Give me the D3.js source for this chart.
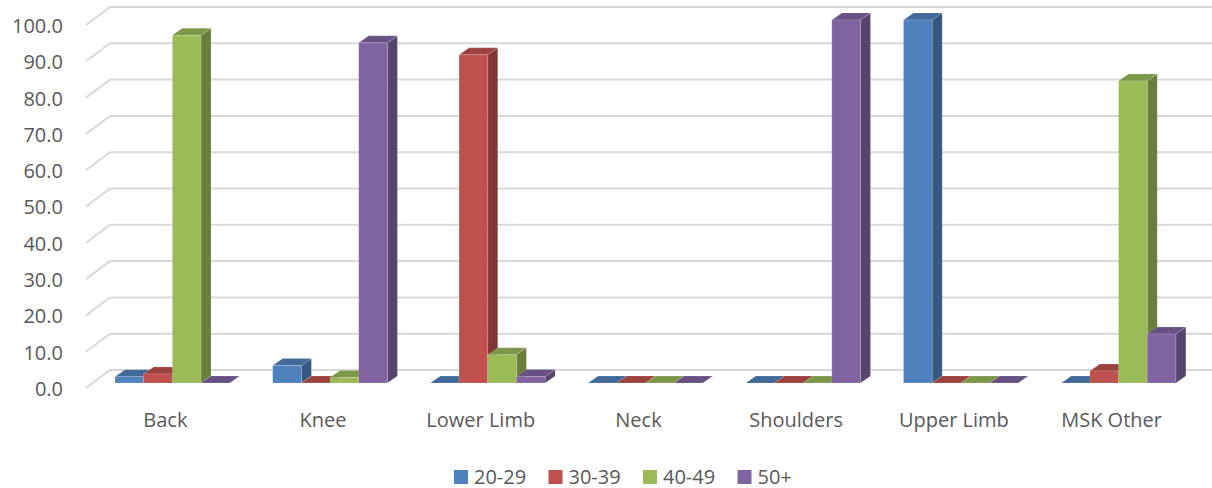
<!DOCTYPE html>
<html>
<head>
<meta charset="utf-8">
<script src="https://cdn.jsdelivr.net/npm/d3@7/dist/d3.min.js"></script>
<style>
  html, body { margin: 0; padding: 0; background: #ffffff; }
  svg { display: block; }
  text { font-family: "Open Sans", "Liberation Sans", sans-serif; fill: #595959; }
</style>
</head>
<body>
<svg id="chart" width="1212" height="488"></svg>
<script>
// Share of cases by age band within each body region (%)
const categories = ["Back", "Knee", "Lower Limb", "Neck", "Shoulders", "Upper Limb", "MSK Other"];
const seriesNames = ["20-29", "30-39", "40-49", "50+"];
const age20to29 = [1.7, 4.8, 0.0, 0.0, 0.0, 100.0, 0.0];
const age30to39 = [2.5, 0.0, 90.4, 0.0, 0.0, 0.0, 3.3];
const age40to49 = [95.8, 1.5, 7.8, 0.0, 0.0, 0.0, 83.2];
const age50plus = [0.0, 93.7, 1.8, 0.0, 100.0, 0.0, 13.5];
const yTicks = [0, 10, 20, 30, 40, 50, 60, 70, 80, 90, 100];
const seriesColors = ["#4f81bd", "#c0504d", "#9bbb59", "#8064a2"];

const seriesValues = [age20to29, age30to39, age40to49, age50plus];

const svg = d3.select("#chart");
const labelFont = "\"Open Sans\", sans-serif";

// Oblique 3D layout: floor front edge, bar plane and back wall
const wallShift = { dx: 24, dy: -18 };   // front edge -> back wall
const barShift = { dx: 6.5, dy: -5 };    // front edge -> bar front faces
const barDepth = { dx: 10, dy: -7 };     // thickness of each column

const yFront = d3.scaleLinear().domain([0, 100]).range([388, 25]);
const yBar = d3.scaleLinear().domain([0, 100]).range([388 + barShift.dy, 25 + barShift.dy]);
const frontLeft = 86;

const xCat = d3.scaleBand()
  .domain(categories)
  .range([frontLeft + barShift.dx + 1, frontLeft + barShift.dx + 1 + 7 * 157.7])
  .paddingInner(1.5 / 5.5)
  .paddingOuter(0.75 / 5.5);

const xSer = d3.scaleBand()
  .domain(seriesNames)
  .range([0, xCat.bandwidth()])
  .padding(0);

const color = d3.scaleOrdinal().domain(seriesNames).range(seriesColors);

// Gridlines: slanted along the side wall, then flat across the back wall
const grid = svg.append("g").attr("class", "grid");
grid.selectAll("path")
  .data(yTicks)
  .join("path")
  .attr("d", v => {
    const yf = yFront(v);
    return `M${frontLeft},${yf}L${frontLeft + wallShift.dx},${yf + wallShift.dy}L1212,${yf + wallShift.dy}`;
  })
  .attr("fill", "none")
  .attr("stroke", "#d9d9d9")
  .attr("stroke-width", 2);

// Y axis labels sit at the front edge of each gridline
const yAxis = d3.axisLeft(yFront)
  .tickValues(yTicks)
  .tickFormat(d3.format(".1f"))
  .tickSize(0)
  .tickPadding(0);

svg.append("g")
  .attr("transform", "translate(63,1)")
  .call(yAxis)
  .call(g => g.select(".domain").remove())
  .selectAll("text")
  .style("font-size", "20px")
  .style("font-family", labelFont)
  .attr("fill", "#595959");

// Columns drawn left to right so each one hides its left neighbour's side face
const bars = [];
categories.forEach((cat, ci) => {
  seriesNames.forEach((s, si) => {
    bars.push({ cat, series: s, value: seriesValues[si][ci] });
  });
});

const barG = svg.append("g").attr("class", "bars");
const barSel = barG.selectAll("g.bar")
  .data(bars)
  .join("g")
  .attr("class", "bar");

const edge = "rgba(255,255,255,0.25)";

barSel.each(function (d) {
  const g = d3.select(this);
  const x = xCat(d.cat) + xSer(d.series);
  const w = xSer.bandwidth();
  const yT = yBar(d.value);
  const yB = yBar(0);
  const base = d3.rgb(color(d.series));
  const topC = base.darker(0.6);
  const sideC = base.darker(1.1);
  const ddx = barDepth.dx, ddy = barDepth.dy;

  g.append("path")
    .attr("d", `M${x + w},${yT}L${x + w + ddx},${yT + ddy}L${x + w + ddx},${yB + ddy}L${x + w},${yB}Z`)
    .attr("fill", sideC)
    .attr("stroke", edge).attr("stroke-width", 0.6);

  g.append("path")
    .attr("d", `M${x},${yT}L${x + w},${yT}L${x + w + ddx},${yT + ddy}L${x + ddx},${yT + ddy}Z`)
    .attr("fill", topC)
    .attr("stroke", edge).attr("stroke-width", 0.6);

  if (yB - yT > 0) {
    g.append("rect")
      .attr("x", x)
      .attr("y", yT)
      .attr("width", w)
      .attr("height", yB - yT)
      .attr("fill", base)
      .attr("stroke", edge).attr("stroke-width", 0.6);
  }
});

// Category labels under the floor
const xLabel = d3.axisBottom(xCat).tickSize(0).tickPadding(0);
svg.append("g")
  .attr("transform", "translate(-7,413)")
  .call(xLabel)
  .call(g => g.select(".domain").remove())
  .selectAll("text")
  .style("font-size", "20px")
  .style("font-family", labelFont)
  .attr("fill", "#595959");

// Legend
const legend = svg.append("g").attr("class", "legend");
const legendStart = 454, legendStep = 94.5;
const item = legend.selectAll("g")
  .data(seriesNames)
  .join("g")
  .attr("transform", (d, i) => `translate(${legendStart + i * legendStep},470)`);
item.append("rect")
  .attr("width", 14).attr("height", 14)
  .attr("fill", d => color(d));
item.append("text")
  .attr("x", 20).attr("y", 7).attr("dy", "0.35em")
  .style("font-size", "20px")
  .style("font-family", labelFont)
  .text(d => d);
</script>
</body>
</html>
